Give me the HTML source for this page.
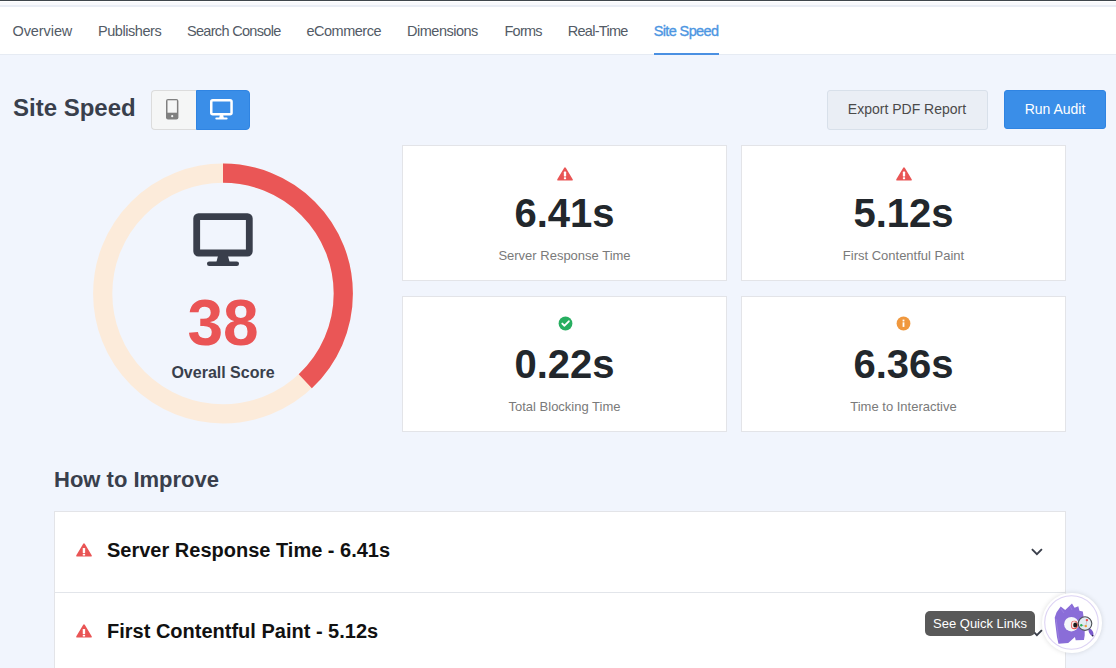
<!DOCTYPE html>
<html><head><meta charset="utf-8">
<style>
*{box-sizing:border-box;margin:0;padding:0}
html,body{width:1116px;height:668px;overflow:hidden}
body{background:#f1f5fd;font-family:"Liberation Sans",sans-serif;position:relative}
.abs{position:absolute}
.t0{top:0;left:0;width:1116px;height:1px;background:#3f464c}
.t1{top:1px;left:0;width:1116px;height:1px;background:#fff}
.t2{top:2px;left:0;width:1116px;height:3px;background:#f8f9fc}
.t3{top:5px;left:0;width:1116px;height:2px;background:#e9edf5}
.nav{top:7px;left:0;width:1116px;height:48px;background:#fff;border-bottom:1px solid #e6ebf3}
.ni{position:absolute;top:15.5px;font-size:14.5px;line-height:16px;color:#535b66;white-space:nowrap}
.ni.act{color:#4d96e2;-webkit-text-stroke:0.35px #4d96e2}
.uline{position:absolute;left:654px;top:46px;width:65px;height:2px;background:#4a90e2}
.title{left:13px;top:94px;font-size:24px;font-weight:bold;color:#393f4c;line-height:28px;white-space:nowrap}
.tg1{left:151px;top:90px;width:45px;height:40px;background:#f5f6f6;border:1px solid #dcdcdc;border-right:none;border-radius:4px 0 0 4px}
.tg2{left:195.5px;top:90px;width:54.5px;height:40px;background:#3a8ee8;border:1px solid #2f84e2;border-radius:0 4px 4px 0}
.btn1{left:826.5px;top:90px;width:161px;height:39.5px;background:#eaeef5;border:1px solid #d8e0ea;border-radius:3px;font-size:14px;color:#4a4a4a;text-align:center;line-height:36px}
.btn2{left:1004px;top:90px;width:102px;height:39px;background:#3a8ee8;border:1px solid #2f84e2;border-radius:3px;font-size:14px;color:#fff;text-align:center;line-height:37px}
.card{position:absolute;background:#fff;border:1px solid #e3e4e8;text-align:center}
.val{position:absolute;left:0;width:100%;font-size:40px;font-weight:bold;color:#22272c;line-height:40px;top:46.5px}
.lab{position:absolute;left:0;width:100%;font-size:13px;color:#7a7a7a;line-height:16px;top:101.5px}
.ico{position:absolute;left:50%}
.h2{left:54px;top:467px;font-size:22px;font-weight:bold;color:#393f4c;line-height:26px;white-space:nowrap}
.acc{left:54px;top:511px;width:1012px;height:200px;background:#fff;border:1px solid #e3e4e8}
.row{position:absolute;left:0;width:100%;height:81px;border-bottom:1px solid #e2e5ea}
.rt{position:absolute;left:52px;font-size:20px;font-weight:bold;color:#111;line-height:24px;white-space:nowrap}
.tip{left:925px;top:611px;width:110px;height:25px;background:#595959;border-radius:5px;color:#fff;font-size:13px;line-height:26px;text-align:center;white-space:nowrap}
.av{left:1042.3px;top:593.3px;width:59.4px;height:59.4px;border-radius:50%;background:#fff;box-shadow:0 0 5px rgba(0,0,0,0.13)}
</style></head>
<body>
<div class="abs t0"></div><div class="abs t1"></div><div class="abs t2"></div><div class="abs t3"></div>
<div class="abs nav">
  <span class="ni" style="left:12.50px;letter-spacing:-0.085px">Overview</span>
  <span class="ni" style="left:97.90px;letter-spacing:-0.435px">Publishers</span>
  <span class="ni" style="left:186.90px;letter-spacing:-0.676px">Search Console</span>
  <span class="ni" style="left:306.50px;letter-spacing:-0.500px">eCommerce</span>
  <span class="ni" style="left:407.10px;letter-spacing:-0.500px">Dimensions</span>
  <span class="ni" style="left:504.50px;letter-spacing:-0.750px">Forms</span>
  <span class="ni" style="left:567.70px;letter-spacing:-0.698px">Real-Time</span>
  <span class="ni act" style="left:653.70px;letter-spacing:-0.622px">Site Speed</span>
  <div class="uline"></div>
</div>

<div class="abs title">Site Speed</div>
<div class="abs tg1">
  <svg class="abs" style="left:14.3px;top:8.2px" width="13" height="21" viewBox="0 0 13 21">
    <rect x="0" y="0" width="12.4" height="20.6" rx="2" fill="#808080"/>
    <rect x="1.5" y="1.3" width="9.4" height="12.4" fill="#f5f6f6"/>
    <circle cx="6.2" cy="17.2" r="1.1" fill="#f5f6f6"/>
  </svg>
</div>
<div class="abs tg2">
  <svg class="abs" style="left:13.7px;top:8.2px" width="24" height="22" viewBox="0 0 24 22">
    <rect x="1.25" y="1.25" width="20.3" height="14" rx="1.5" fill="none" stroke="#fff" stroke-width="2.5"/>
    <path d="M9.8 16 L13.2 16 L13.8 19 L9.2 19 Z" fill="#fff"/>
    <rect x="5.3" y="18.6" width="12.3" height="2" rx="1" fill="#fff"/>
  </svg>
</div>

<div class="abs btn1">Export PDF Report</div>
<div class="abs btn2">Run Audit</div>

<!-- score ring -->
<svg class="abs" style="left:0;top:0" width="400" height="440">
  <circle cx="223" cy="293.5" r="120.3" fill="none" stroke="#fcebda" stroke-width="19.2"/>
  <circle cx="223" cy="293.5" r="120.3" fill="none" stroke="#ea5656" stroke-width="19.2"
    stroke-dasharray="287.2 1000" transform="rotate(-90 223 293.5)"/>
  <!-- monitor -->
  <rect x="196.7" y="216.6" width="52.6" height="36.4" rx="1.8" fill="none" stroke="#393e4b" stroke-width="6.8"/>
  <path d="M218 256 L228 256 L229.6 262 L216.4 262 Z" fill="#393e4b"/>
  <rect x="207" y="261.4" width="32" height="4.5" rx="2.2" fill="#393e4b"/>
</svg>
<div class="abs" style="left:123px;top:285px;width:200px;text-align:center;font-size:64px;font-weight:bold;color:#ea5455;line-height:76px">38</div>
<div class="abs" style="left:123px;top:363px;width:200px;text-align:center;font-size:16px;font-weight:bold;color:#393f4c;line-height:20px">Overall Score</div>

<!-- cards -->
<div class="card" style="left:402px;top:145px;width:325px;height:136px">
  <svg class="ico" style="margin-left:-7.2px;top:20.6px" width="16" height="14" viewBox="0 0 16 14">
    <polygon points="8,1.3 14.9,12.7 1.1,12.7" fill="#e95555" stroke="#e95555" stroke-width="1.8" stroke-linejoin="round"/>
    <rect x="6.85" y="4.6" width="2.3" height="5" rx="0.6" fill="#fff"/>
    <rect x="6.85" y="10.3" width="2.3" height="1.9" rx="0.6" fill="#fff"/>
  </svg>
  <div class="val">6.41s</div>
  <div class="lab">Server Response Time</div>
</div>
<div class="card" style="left:741px;top:145px;width:325px;height:136px">
  <svg class="ico" style="margin-left:-7.2px;top:20.6px" width="16" height="14" viewBox="0 0 16 14">
    <polygon points="8,1.3 14.9,12.7 1.1,12.7" fill="#e95555" stroke="#e95555" stroke-width="1.8" stroke-linejoin="round"/>
    <rect x="6.85" y="4.6" width="2.3" height="5" rx="0.6" fill="#fff"/>
    <rect x="6.85" y="10.3" width="2.3" height="1.9" rx="0.6" fill="#fff"/>
  </svg>
  <div class="val">5.12s</div>
  <div class="lab">First Contentful Paint</div>
</div>
<div class="card" style="left:402px;top:296px;width:325px;height:136px">
  <svg class="ico" style="margin-left:-7px;top:19.1px" width="15" height="15" viewBox="0 0 15 15">
    <circle cx="7.5" cy="7.5" r="6.9" fill="#27ae60"/>
    <path d="M4.3 7.6 L6.5 9.7 L10.8 5.3" fill="none" stroke="#fff" stroke-width="1.9" stroke-linecap="round" stroke-linejoin="round"/>
  </svg>
  <div class="val">0.22s</div>
  <div class="lab">Total Blocking Time</div>
</div>
<div class="card" style="left:741px;top:296px;width:325px;height:136px">
  <svg class="ico" style="margin-left:-7.4px;top:19.1px" width="15" height="15" viewBox="0 0 15 15">
    <circle cx="7.5" cy="7.5" r="6.9" fill="#f0983e"/>
    <rect x="6.6" y="3.6" width="1.8" height="1.8" fill="#fff"/>
    <rect x="6.6" y="6.3" width="1.8" height="4.6" fill="#fff"/>
  </svg>
  <div class="val">6.36s</div>
  <div class="lab">Time to Interactive</div>
</div>

<div class="abs h2">How to Improve</div>
<div class="abs acc">
  <div class="row" style="top:0">
    <svg class="abs" style="left:20.6px;top:31px" width="16" height="14" viewBox="0 0 16 14">
      <polygon points="8,1.3 14.9,12.7 1.1,12.7" fill="#e95555" stroke="#e95555" stroke-width="1.8" stroke-linejoin="round"/>
      <rect x="6.75" y="4.9" width="2.4" height="5.2" rx="0.6" fill="#fff"/>
      <rect x="6.75" y="10.7" width="2.4" height="1.8" rx="0.6" fill="#fff"/>
    </svg>
    <div class="rt" style="top:26px">Server Response Time - 6.41s</div>
    <svg class="abs" style="left:975.5px;top:36px" width="13" height="9" viewBox="0 0 13 9">
      <path d="M0.9 1.2 L5.9 6.2 L10.9 1.2" fill="none" stroke="#3a3f4b" stroke-width="1.9"/>
    </svg>
  </div>
  <div class="row" style="top:81px">
    <svg class="abs" style="left:20.6px;top:31px" width="16" height="14" viewBox="0 0 16 14">
      <polygon points="8,1.3 14.9,12.7 1.1,12.7" fill="#e95555" stroke="#e95555" stroke-width="1.8" stroke-linejoin="round"/>
      <rect x="6.75" y="4.9" width="2.4" height="5.2" rx="0.6" fill="#fff"/>
      <rect x="6.75" y="10.7" width="2.4" height="1.8" rx="0.6" fill="#fff"/>
    </svg>
    <div class="rt" style="top:26px">First Contentful Paint - 5.12s</div>
    <svg class="abs" style="left:975.5px;top:36px" width="13" height="9" viewBox="0 0 13 9">
      <path d="M0.9 1.2 L5.9 6.2 L10.9 1.2" fill="none" stroke="#3a3f4b" stroke-width="1.9"/>
    </svg>
  </div>
</div>

<div class="abs tip">See Quick Links</div>
<div class="abs av">
  <svg class="abs" style="left:0;top:0" width="59" height="59" viewBox="0 0 59 59">
    <circle cx="29.5" cy="29.5" r="26.8" fill="none" stroke="#ddd3f4" stroke-width="1.1"/>
    <path d="M12.74 24.46 L14.61 19.22 L18.73 13.61 L23.22 16.98 L29.96 10.62 L32.57 14.73 L36.32 13.24 L37.44 17.73 L40.81 18.48 L41.56 23.72 L42.68 28.96 L42.68 42.43 L41.93 46.92 L33.7 47.29 L32.95 43.93 L26.21 49.91 L16.48 50.66 L14.99 43.93 L13.11 28.96Z" fill="#8a6dd8"/>
    <path d="M14 26 L17 47 M19 16 L22 20 M28 13 L30 17" stroke="#9a80e0" stroke-width="1" fill="none"/>
    <path d="M46.5 35.5 C49.5 35.5 51.5 38.5 51.5 41.5 L50 43 C47.5 41 46 38.5 46.5 35.5Z" fill="#7a5acc"/>
    <circle cx="50.7" cy="42.6" r="0.9" fill="#2e2650"/>
    <circle cx="29.4" cy="31.2" r="7.3" fill="#f4f6fa"/>
    <ellipse cx="32.4" cy="32" rx="3.5" ry="4.3" fill="#e64a4a"/>
    <ellipse cx="32.2" cy="31.8" rx="2.6" ry="3.5" fill="#fbe9e9"/>
    <ellipse cx="33.2" cy="32" rx="2" ry="2.6" fill="#1b1b1b"/>
    <circle cx="43" cy="30.6" r="6.8" fill="#e2eaf1" stroke="#4d5057" stroke-width="1.1"/>
    <path d="M39.3 32.3 L43.8 33.1 L44.9 27.1" stroke="#9aa4ad" stroke-width="0.5" fill="none"/>
    <circle cx="44.9" cy="27.1" r="1.2" fill="#ee4b4b"/>
    <circle cx="39.3" cy="32.3" r="1.2" fill="#2fb35a"/>
    <circle cx="43.8" cy="33.1" r="1.2" fill="#f0982e"/>
  </svg>
</div>
</body></html>
